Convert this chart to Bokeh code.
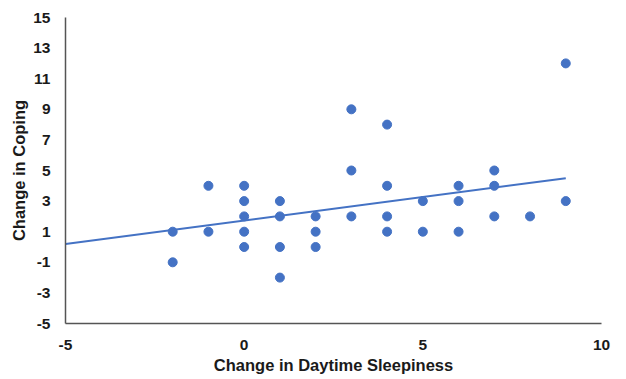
from bokeh.plotting import figure
from bokeh.models import FixedTicker, Range1d, ColumnDataSource
from bokeh.embed import file_html
from bokeh.resources import INLINE

# Data
sleepiness = [-2, -2, -1, -1, 0, 0, 0, 0, 0, 1, 1, 1, 1, 2, 2, 2,
              3, 3, 3, 4, 4, 4, 4, 5, 5, 6, 6, 6, 7, 7, 7, 8, 9, 9]
coping = [1, -1, 4, 1, 4, 3, 2, 1, 0, 3, 2, 0, -2, 2, 1, 0,
          9, 5, 2, 8, 4, 2, 1, 3, 1, 4, 3, 1, 5, 4, 2, 2, 12, 3]
trend_x = [-5, 9]
trend_y = [0.2, 4.5]
x_ticks = [-5, 0, 5, 10]
y_ticks = [-5, -3, -1, 1, 3, 5, 7, 9, 11, 13, 15]

BLUE = "#4472C4"
FONT = "Liberation Sans"

p = figure(frame_width=536, frame_height=306,
           x_range=Range1d(-5, 10), y_range=Range1d(-5, 15),
           output_backend="svg", toolbar_location=None,
           min_border_left=65, min_border_top=17, min_border_right=25,
           min_border_bottom=10)
p.outline_line_color = None
p.xgrid.grid_line_color = None
p.ygrid.grid_line_color = None
p.background_fill_color = "white"
p.border_fill_color = "white"

src = ColumnDataSource(dict(x=sleepiness, y=coping))
p.line(trend_x, trend_y, line_color=BLUE, line_width=2)
p.scatter("x", "y", source=src, size=9, fill_color=BLUE, line_color=BLUE)

p.xaxis.ticker = FixedTicker(ticks=x_ticks)
p.yaxis.ticker = FixedTicker(ticks=y_ticks)
p.xaxis.major_label_overrides = {t: str(t) for t in x_ticks}
p.yaxis.major_label_overrides = {t: str(t) for t in y_ticks}
p.xaxis.axis_label = "Change in Daytime Sleepiness"
p.yaxis.axis_label = "Change in Coping"

for ax in (p.xaxis, p.yaxis):
    ax.axis_line_color = "#555555"
    ax.axis_line_width = 1.5
    ax.major_tick_line_color = None
    ax.minor_tick_line_color = None
    ax.major_tick_out = 0
    ax.major_tick_in = 0
    ax.minor_tick_out = 0
    ax.minor_tick_in = 0
    ax.major_label_text_font = FONT
    ax.major_label_text_font_style = "bold"
    ax.major_label_text_font_size = "15.5px"
    ax.major_label_text_color = "#1a1a1a"
    ax.axis_label_text_font = FONT
    ax.axis_label_text_font_style = "bold"
    ax.axis_label_text_font_size = "16.5px"
    ax.axis_label_text_color = "#1a1a1a"

p.yaxis.major_label_standoff = 15
p.yaxis.axis_label_standoff = 2
p.xaxis.major_label_standoff = 16
p.xaxis.axis_label_standoff = 3

open("out.html", "w").write(file_html(p, INLINE))
